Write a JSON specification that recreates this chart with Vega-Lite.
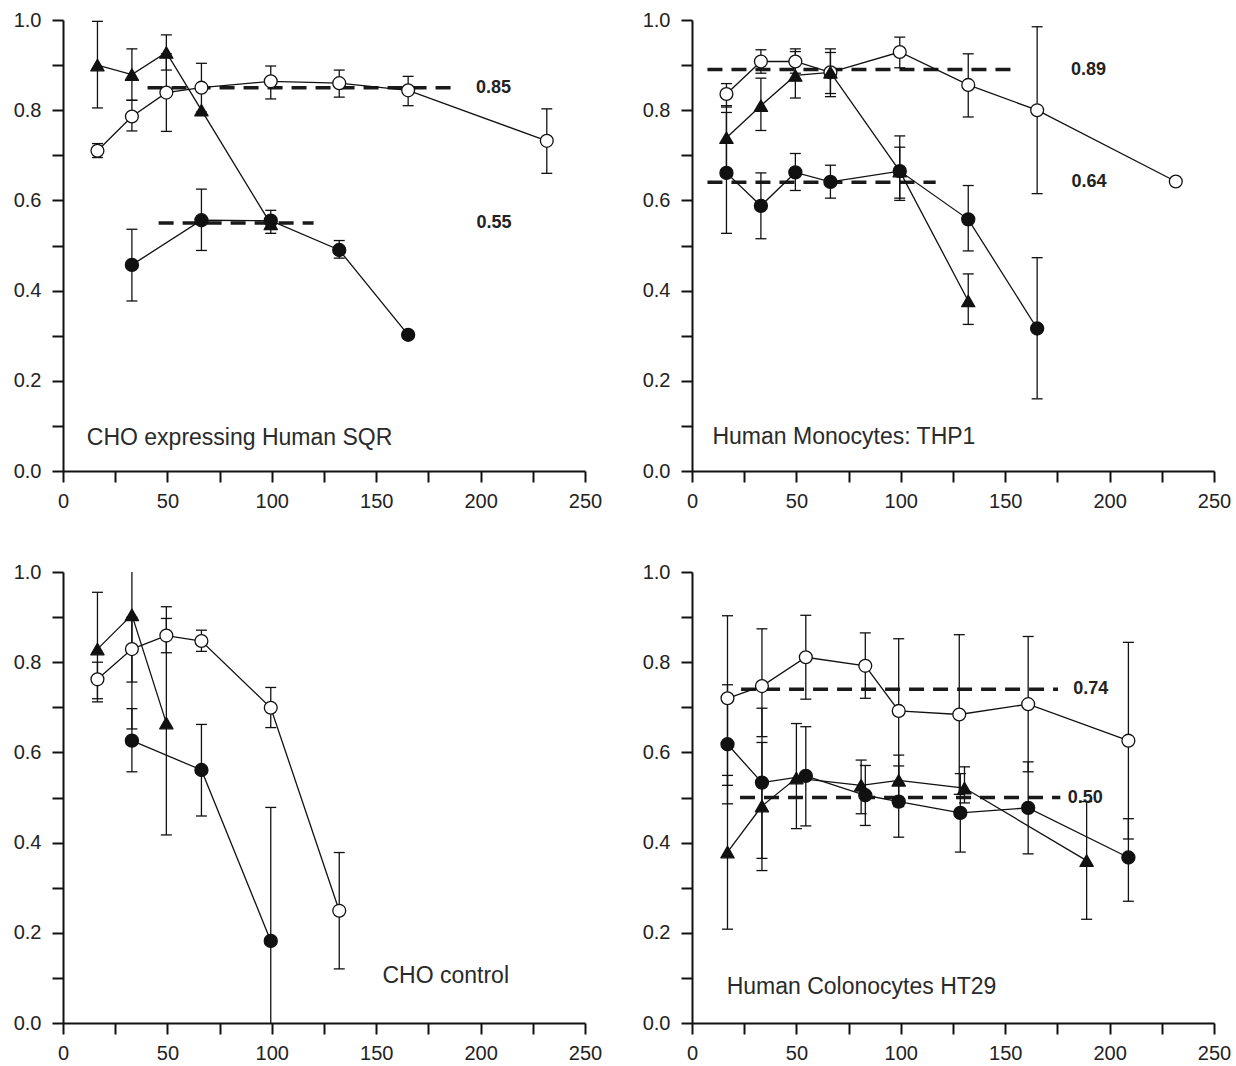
{
  "$schema": "https://vega.github.io/schema/vega-lite/v6.json",
  "padding": {"left": 13, "top": 10, "right": 0, "bottom": 0},
  "background": "white",
  "config": {
    "view": {"stroke": null},
    "font": "Liberation Sans",
    "axis": {
      "domainColor": "#111",
      "domainWidth": 2,
      "tickColor": "#111",
      "tickWidth": 2,
      "tickSize": 11,
      "labelFont": "Liberation Sans",
      "labelFontSize": 20,
      "labelColor": "#222",
      "grid": false,
      "title": null,
      "labelOverlap": false,
      "labelFlush": false
    },
    "axisX": {
      "format": "d",
      "labelExpr": "datum.value % 50 === 0 ? datum.label : ''",
      "labelPadding": 9
    },
    "axisY": {
      "format": ".1f",
      "labelExpr": "indexof(['0.0','0.2','0.4','0.6','0.8','1.0'], datum.label) >= 0 ? datum.label : ''",
      "labelPadding": 11
    }
  },
  "datasets": {
    "cells": [
      {"panel": "SQR", "kind": "pt", "series": "open", "x": 16.5, "y": 0.71, "lo": 0.695, "hi": 0.726},
      {"panel": "SQR", "kind": "pt", "series": "open", "x": 33, "y": 0.786, "lo": 0.754, "hi": 0.822},
      {"panel": "SQR", "kind": "pt", "series": "open", "x": 49.5, "y": 0.839, "lo": 0.753, "hi": 0.925},
      {"panel": "SQR", "kind": "pt", "series": "open", "x": 66.3, "y": 0.85, "lo": 0.796, "hi": 0.904},
      {"panel": "SQR", "kind": "pt", "series": "open", "x": 99.5, "y": 0.864, "lo": 0.825, "hi": 0.898},
      {"panel": "SQR", "kind": "pt", "series": "open", "x": 132.3, "y": 0.86, "lo": 0.829, "hi": 0.889},
      {"panel": "SQR", "kind": "pt", "series": "open", "x": 165.3, "y": 0.844, "lo": 0.81, "hi": 0.875},
      {"panel": "SQR", "kind": "pt", "series": "open", "x": 231.7, "y": 0.732, "lo": 0.66, "hi": 0.803},
      {"panel": "SQR", "kind": "pt", "series": "tri", "x": 16.5, "y": 0.9, "lo": 0.805, "hi": 0.997},
      {"panel": "SQR", "kind": "pt", "series": "tri", "x": 33, "y": 0.879, "lo": 0.822, "hi": 0.936},
      {"panel": "SQR", "kind": "pt", "series": "tri", "x": 49.5, "y": 0.928, "lo": 0.889, "hi": 0.967},
      {"panel": "SQR", "kind": "pt", "series": "tri", "x": 66.3, "y": 0.8},
      {"panel": "SQR", "kind": "pt", "series": "tri", "x": 99.5, "y": 0.548},
      {"panel": "SQR", "kind": "pt", "series": "filled", "x": 33, "y": 0.457, "lo": 0.377, "hi": 0.536},
      {"panel": "SQR", "kind": "pt", "series": "filled", "x": 66.3, "y": 0.556, "lo": 0.489, "hi": 0.625},
      {"panel": "SQR", "kind": "pt", "series": "filled", "x": 99.5, "y": 0.555, "lo": 0.527, "hi": 0.578},
      {"panel": "SQR", "kind": "pt", "series": "filled", "x": 132.3, "y": 0.49, "lo": 0.472, "hi": 0.511},
      {"panel": "SQR", "kind": "pt", "series": "filled", "x": 165.3, "y": 0.302},
      {"panel": "SQR", "kind": "mean", "x": 40.5, "x2": 189, "y": 0.85, "lx": 197.8, "label": "0.85"},
      {"panel": "SQR", "kind": "mean", "x": 45.8, "x2": 120, "y": 0.55, "lx": 198, "label": "0.55"},
      {"panel": "SQR", "kind": "note", "x": 11.4, "y": 0.073, "label": "CHO expressing Human SQR"},

      {"panel": "THP1", "kind": "pt", "series": "open", "x": 16.5, "y": 0.836, "lo": 0.807, "hi": 0.859},
      {"panel": "THP1", "kind": "pt", "series": "open", "x": 33, "y": 0.908, "lo": 0.882, "hi": 0.934},
      {"panel": "THP1", "kind": "pt", "series": "open", "x": 49.5, "y": 0.908, "lo": 0.882, "hi": 0.936},
      {"panel": "THP1", "kind": "pt", "series": "open", "x": 66.3, "y": 0.884, "lo": 0.83, "hi": 0.936},
      {"panel": "THP1", "kind": "pt", "series": "open", "x": 99.5, "y": 0.929, "lo": 0.894, "hi": 0.962},
      {"panel": "THP1", "kind": "pt", "series": "open", "x": 132.3, "y": 0.856, "lo": 0.785, "hi": 0.925},
      {"panel": "THP1", "kind": "pt", "series": "open", "x": 165.3, "y": 0.8, "lo": 0.615, "hi": 0.985},
      {"panel": "THP1", "kind": "pt", "series": "open", "x": 231.7, "y": 0.642},
      {"panel": "THP1", "kind": "pt", "series": "tri", "x": 16.5, "y": 0.739, "lo": 0.668, "hi": 0.81},
      {"panel": "THP1", "kind": "pt", "series": "tri", "x": 33, "y": 0.81, "lo": 0.755, "hi": 0.871},
      {"panel": "THP1", "kind": "pt", "series": "tri", "x": 49.5, "y": 0.877, "lo": 0.827, "hi": 0.93},
      {"panel": "THP1", "kind": "pt", "series": "tri", "x": 66.3, "y": 0.884, "lo": 0.837, "hi": 0.928},
      {"panel": "THP1", "kind": "pt", "series": "tri", "x": 99.5, "y": 0.665, "lo": 0.6, "hi": 0.718},
      {"panel": "THP1", "kind": "pt", "series": "tri", "x": 132.3, "y": 0.377, "lo": 0.325, "hi": 0.437},
      {"panel": "THP1", "kind": "pt", "series": "filled", "x": 16.5, "y": 0.661, "lo": 0.527, "hi": 0.795},
      {"panel": "THP1", "kind": "pt", "series": "filled", "x": 33, "y": 0.588, "lo": 0.515, "hi": 0.661},
      {"panel": "THP1", "kind": "pt", "series": "filled", "x": 49.5, "y": 0.662, "lo": 0.622, "hi": 0.704},
      {"panel": "THP1", "kind": "pt", "series": "filled", "x": 66.3, "y": 0.641, "lo": 0.605, "hi": 0.678},
      {"panel": "THP1", "kind": "pt", "series": "filled", "x": 99.5, "y": 0.665, "lo": 0.605, "hi": 0.743},
      {"panel": "THP1", "kind": "pt", "series": "filled", "x": 132.3, "y": 0.558, "lo": 0.488, "hi": 0.633},
      {"panel": "THP1", "kind": "pt", "series": "filled", "x": 165.3, "y": 0.316, "lo": 0.16, "hi": 0.473},
      {"panel": "THP1", "kind": "mean", "x": 7.4, "x2": 155.7, "y": 0.89, "lx": 181.5, "label": "0.89"},
      {"panel": "THP1", "kind": "mean", "x": 7.4, "x2": 116.7, "y": 0.64, "lx": 181.8, "label": "0.64"},
      {"panel": "THP1", "kind": "note", "x": 9.8, "y": 0.075, "label": "Human Monocytes: THP1"},

      {"panel": "CTRL", "kind": "pt", "series": "open", "x": 16.5, "y": 0.762, "lo": 0.719, "hi": 0.8},
      {"panel": "CTRL", "kind": "pt", "series": "open", "x": 33, "y": 0.829, "lo": 0.756, "hi": 0.9},
      {"panel": "CTRL", "kind": "pt", "series": "open", "x": 49.5, "y": 0.859, "lo": 0.821, "hi": 0.897},
      {"panel": "CTRL", "kind": "pt", "series": "open", "x": 66.3, "y": 0.847, "lo": 0.824, "hi": 0.871},
      {"panel": "CTRL", "kind": "pt", "series": "open", "x": 99.5, "y": 0.699, "lo": 0.655, "hi": 0.744},
      {"panel": "CTRL", "kind": "pt", "series": "open", "x": 132.3, "y": 0.249, "lo": 0.12, "hi": 0.378},
      {"panel": "CTRL", "kind": "pt", "series": "tri", "x": 16.5, "y": 0.829, "lo": 0.712, "hi": 0.955},
      {"panel": "CTRL", "kind": "pt", "series": "tri", "x": 33, "y": 0.905, "lo": 0.652, "hi": 1.16},
      {"panel": "CTRL", "kind": "pt", "series": "tri", "x": 49.5, "y": 0.665, "lo": 0.417, "hi": 0.923},
      {"panel": "CTRL", "kind": "pt", "series": "filled", "x": 33, "y": 0.626, "lo": 0.557, "hi": 0.697},
      {"panel": "CTRL", "kind": "pt", "series": "filled", "x": 66.3, "y": 0.561, "lo": 0.459, "hi": 0.662},
      {"panel": "CTRL", "kind": "pt", "series": "filled", "x": 99.5, "y": 0.182, "lo": -0.11, "hi": 0.478},
      {"panel": "CTRL", "kind": "note", "x": 153, "y": 0.105, "label": "CHO control"},

      {"panel": "HT29", "kind": "pt", "series": "open", "x": 17, "y": 0.72, "lo": 0.527, "hi": 0.903},
      {"panel": "HT29", "kind": "pt", "series": "open", "x": 33.5, "y": 0.747, "lo": 0.635, "hi": 0.874},
      {"panel": "HT29", "kind": "pt", "series": "open", "x": 54.5, "y": 0.811, "lo": 0.718, "hi": 0.904},
      {"panel": "HT29", "kind": "pt", "series": "open", "x": 83, "y": 0.792, "lo": 0.72, "hi": 0.865},
      {"panel": "HT29", "kind": "pt", "series": "open", "x": 99, "y": 0.692, "lo": 0.532, "hi": 0.852},
      {"panel": "HT29", "kind": "pt", "series": "open", "x": 128, "y": 0.684, "lo": 0.507, "hi": 0.861},
      {"panel": "HT29", "kind": "pt", "series": "open", "x": 161, "y": 0.707, "lo": 0.557, "hi": 0.857},
      {"panel": "HT29", "kind": "pt", "series": "open", "x": 209, "y": 0.626, "lo": 0.408, "hi": 0.844},
      {"panel": "HT29", "kind": "pt", "series": "filled", "x": 17, "y": 0.618, "lo": 0.486, "hi": 0.75},
      {"panel": "HT29", "kind": "pt", "series": "filled", "x": 33.5, "y": 0.533, "lo": 0.365, "hi": 0.698},
      {"panel": "HT29", "kind": "pt", "series": "filled", "x": 54.5, "y": 0.548, "lo": 0.437, "hi": 0.657},
      {"panel": "HT29", "kind": "pt", "series": "filled", "x": 83, "y": 0.505, "lo": 0.438, "hi": 0.571},
      {"panel": "HT29", "kind": "pt", "series": "filled", "x": 99, "y": 0.491, "lo": 0.412, "hi": 0.57},
      {"panel": "HT29", "kind": "pt", "series": "filled", "x": 128.5, "y": 0.466, "lo": 0.379, "hi": 0.553},
      {"panel": "HT29", "kind": "pt", "series": "filled", "x": 161, "y": 0.477, "lo": 0.375, "hi": 0.579},
      {"panel": "HT29", "kind": "pt", "series": "filled", "x": 209, "y": 0.367, "lo": 0.27, "hi": 0.453},
      {"panel": "HT29", "kind": "pt", "series": "tri", "x": 17, "y": 0.379, "lo": 0.208, "hi": 0.549},
      {"panel": "HT29", "kind": "pt", "series": "tri", "x": 33.5, "y": 0.481, "lo": 0.338, "hi": 0.622},
      {"panel": "HT29", "kind": "pt", "series": "tri", "x": 50, "y": 0.543, "lo": 0.431, "hi": 0.664},
      {"panel": "HT29", "kind": "pt", "series": "tri", "x": 81, "y": 0.527, "lo": 0.464, "hi": 0.583},
      {"panel": "HT29", "kind": "pt", "series": "tri", "x": 99, "y": 0.538, "lo": 0.48, "hi": 0.594},
      {"panel": "HT29", "kind": "pt", "series": "tri", "x": 130.5, "y": 0.521, "lo": 0.488, "hi": 0.568},
      {"panel": "HT29", "kind": "pt", "series": "tri", "x": 189, "y": 0.36, "lo": 0.23, "hi": 0.491},
      {"panel": "HT29", "kind": "mean", "x": 23.5, "x2": 175.3, "y": 0.74, "lx": 182.6, "label": "0.74"},
      {"panel": "HT29", "kind": "mean", "x": 23, "x2": 176.4, "y": 0.5, "lx": 180, "label": "0.50"},
      {"panel": "HT29", "kind": "note", "x": 16.6, "y": 0.08, "label": "Human Colonocytes HT29"}
    ]
  },
  "data": {"name": "cells"},
  "columns": 2,
  "spacing": {"row": 101, "column": 107},
  "bounds": "flush",
  "concat": [
    {
      "width": 522, "height": 451,
      "transform": [{"filter": "datum.panel === 'SQR'"}],
      "encoding": {
        "x": {"field": "x", "type": "quantitative", "scale": {"domain": [0, 250], "nice": false, "zero": false},
          "axis": {"values": [0, 25, 50, 75, 100, 125, 150, 175, 200, 225, 250]}},
        "y": {"field": "y", "type": "quantitative", "scale": {"domain": [0, 1], "nice": false, "zero": false},
          "axis": {"values": [0, 0.1, 0.2, 0.3, 0.4, 0.5, 0.6, 0.7, 0.8, 0.9, 1.0]}}
      },
      "layer": [
        {"transform": [{"filter": "datum.kind === 'mean'"}], "mark": {"type": "rule", "color": "#1a1a1a", "strokeWidth": 3.5, "strokeDash": [15, 9]}, "encoding": {"x2": {"field": "x2"}}},
        {"transform": [{"filter": "datum.kind === 'pt' && isValid(datum.lo)"}], "mark": {"type": "rule", "color": "#111", "strokeWidth": 1.3, "clip": true}, "encoding": {"y": {"field": "lo", "type": "quantitative"}, "y2": {"field": "hi"}}},
        {"transform": [{"filter": "datum.kind === 'pt' && isValid(datum.lo)"}], "mark": {"type": "tick", "orient": "horizontal", "color": "#111", "size": 11, "thickness": 1.3, "opacity": 1, "clip": true}, "encoding": {"y": {"field": "lo", "type": "quantitative"}}},
        {"transform": [{"filter": "datum.kind === 'pt' && isValid(datum.hi)"}], "mark": {"type": "tick", "orient": "horizontal", "color": "#111", "size": 11, "thickness": 1.3, "opacity": 1, "clip": true}, "encoding": {"y": {"field": "hi", "type": "quantitative"}}},
        {"transform": [{"filter": "datum.kind === 'pt'"}], "mark": {"type": "line", "color": "#111", "strokeWidth": 1.3}, "encoding": {"detail": {"field": "series"}}},
        {"transform": [{"filter": "datum.kind === 'pt'"}], "mark": {"type": "point", "filled": false, "stroke": "#111", "strokeWidth": 1.3, "opacity": 1, "strokeJoin": "round"},
          "encoding": {
            "shape": {"field": "series", "type": "nominal", "legend": null, "scale": {"domain": ["open", "filled", "tri"], "range": ["circle", "circle", "triangle-up"]}},
            "fill": {"field": "series", "type": "nominal", "legend": null, "scale": {"domain": ["open", "filled", "tri"], "range": ["#ffffff", "#111111", "#111111"]}},
            "size": {"field": "series", "type": "nominal", "legend": null, "scale": {"domain": ["open", "filled", "tri"], "range": [165, 175, 235]}}
          }},
        {"transform": [{"filter": "datum.kind === 'mean'"}], "mark": {"type": "text", "align": "left", "baseline": "middle", "fontSize": 18, "fontWeight": "bold", "color": "#222"}, "encoding": {"x": {"field": "lx", "type": "quantitative"}, "text": {"field": "label"}}},
        {"transform": [{"filter": "datum.kind === 'note'"}], "mark": {"type": "text", "align": "left", "baseline": "middle", "fontSize": 23, "color": "#2a2a2a"}, "encoding": {"text": {"field": "label"}}}
      ]
    },
    {
      "width": 522, "height": 451,
      "transform": [{"filter": "datum.panel === 'THP1'"}],
      "encoding": {
        "x": {"field": "x", "type": "quantitative", "scale": {"domain": [0, 250], "nice": false, "zero": false},
          "axis": {"values": [0, 25, 50, 75, 100, 125, 150, 175, 200, 225, 250]}},
        "y": {"field": "y", "type": "quantitative", "scale": {"domain": [0, 1], "nice": false, "zero": false},
          "axis": {"values": [0, 0.1, 0.2, 0.3, 0.4, 0.5, 0.6, 0.7, 0.8, 0.9, 1.0]}}
      },
      "layer": [
        {"transform": [{"filter": "datum.kind === 'mean'"}], "mark": {"type": "rule", "color": "#1a1a1a", "strokeWidth": 3.5, "strokeDash": [15, 9]}, "encoding": {"x2": {"field": "x2"}}},
        {"transform": [{"filter": "datum.kind === 'pt' && isValid(datum.lo)"}], "mark": {"type": "rule", "color": "#111", "strokeWidth": 1.3, "clip": true}, "encoding": {"y": {"field": "lo", "type": "quantitative"}, "y2": {"field": "hi"}}},
        {"transform": [{"filter": "datum.kind === 'pt' && isValid(datum.lo)"}], "mark": {"type": "tick", "orient": "horizontal", "color": "#111", "size": 11, "thickness": 1.3, "opacity": 1, "clip": true}, "encoding": {"y": {"field": "lo", "type": "quantitative"}}},
        {"transform": [{"filter": "datum.kind === 'pt' && isValid(datum.hi)"}], "mark": {"type": "tick", "orient": "horizontal", "color": "#111", "size": 11, "thickness": 1.3, "opacity": 1, "clip": true}, "encoding": {"y": {"field": "hi", "type": "quantitative"}}},
        {"transform": [{"filter": "datum.kind === 'pt'"}], "mark": {"type": "line", "color": "#111", "strokeWidth": 1.3}, "encoding": {"detail": {"field": "series"}}},
        {"transform": [{"filter": "datum.kind === 'pt'"}], "mark": {"type": "point", "filled": false, "stroke": "#111", "strokeWidth": 1.3, "opacity": 1, "strokeJoin": "round"},
          "encoding": {
            "shape": {"field": "series", "type": "nominal", "legend": null, "scale": {"domain": ["open", "filled", "tri"], "range": ["circle", "circle", "triangle-up"]}},
            "fill": {"field": "series", "type": "nominal", "legend": null, "scale": {"domain": ["open", "filled", "tri"], "range": ["#ffffff", "#111111", "#111111"]}},
            "size": {"field": "series", "type": "nominal", "legend": null, "scale": {"domain": ["open", "filled", "tri"], "range": [165, 175, 235]}}
          }},
        {"transform": [{"filter": "datum.kind === 'mean'"}], "mark": {"type": "text", "align": "left", "baseline": "middle", "fontSize": 18, "fontWeight": "bold", "color": "#222"}, "encoding": {"x": {"field": "lx", "type": "quantitative"}, "text": {"field": "label"}}},
        {"transform": [{"filter": "datum.kind === 'note'"}], "mark": {"type": "text", "align": "left", "baseline": "middle", "fontSize": 23, "color": "#2a2a2a"}, "encoding": {"text": {"field": "label"}}}
      ]
    },
    {
      "width": 522, "height": 451,
      "transform": [{"filter": "datum.panel === 'CTRL'"}],
      "encoding": {
        "x": {"field": "x", "type": "quantitative", "scale": {"domain": [0, 250], "nice": false, "zero": false},
          "axis": {"values": [0, 25, 50, 75, 100, 125, 150, 175, 200, 225, 250]}},
        "y": {"field": "y", "type": "quantitative", "scale": {"domain": [0, 1], "nice": false, "zero": false},
          "axis": {"values": [0, 0.1, 0.2, 0.3, 0.4, 0.5, 0.6, 0.7, 0.8, 0.9, 1.0]}}
      },
      "layer": [
        {"transform": [{"filter": "datum.kind === 'pt' && isValid(datum.lo)"}], "mark": {"type": "rule", "color": "#111", "strokeWidth": 1.3, "clip": true}, "encoding": {"y": {"field": "lo", "type": "quantitative"}, "y2": {"field": "hi"}}},
        {"transform": [{"filter": "datum.kind === 'pt' && isValid(datum.lo)"}], "mark": {"type": "tick", "orient": "horizontal", "color": "#111", "size": 11, "thickness": 1.3, "opacity": 1, "clip": true}, "encoding": {"y": {"field": "lo", "type": "quantitative"}}},
        {"transform": [{"filter": "datum.kind === 'pt' && isValid(datum.hi)"}], "mark": {"type": "tick", "orient": "horizontal", "color": "#111", "size": 11, "thickness": 1.3, "opacity": 1, "clip": true}, "encoding": {"y": {"field": "hi", "type": "quantitative"}}},
        {"transform": [{"filter": "datum.kind === 'pt'"}], "mark": {"type": "line", "color": "#111", "strokeWidth": 1.3}, "encoding": {"detail": {"field": "series"}}},
        {"transform": [{"filter": "datum.kind === 'pt'"}], "mark": {"type": "point", "filled": false, "stroke": "#111", "strokeWidth": 1.3, "opacity": 1, "strokeJoin": "round"},
          "encoding": {
            "shape": {"field": "series", "type": "nominal", "legend": null, "scale": {"domain": ["open", "filled", "tri"], "range": ["circle", "circle", "triangle-up"]}},
            "fill": {"field": "series", "type": "nominal", "legend": null, "scale": {"domain": ["open", "filled", "tri"], "range": ["#ffffff", "#111111", "#111111"]}},
            "size": {"field": "series", "type": "nominal", "legend": null, "scale": {"domain": ["open", "filled", "tri"], "range": [165, 175, 235]}}
          }},
        {"transform": [{"filter": "datum.kind === 'note'"}], "mark": {"type": "text", "align": "left", "baseline": "middle", "fontSize": 23, "color": "#2a2a2a"}, "encoding": {"text": {"field": "label"}}}
      ]
    },
    {
      "width": 522, "height": 451,
      "transform": [{"filter": "datum.panel === 'HT29'"}],
      "encoding": {
        "x": {"field": "x", "type": "quantitative", "scale": {"domain": [0, 250], "nice": false, "zero": false},
          "axis": {"values": [0, 25, 50, 75, 100, 125, 150, 175, 200, 225, 250]}},
        "y": {"field": "y", "type": "quantitative", "scale": {"domain": [0, 1], "nice": false, "zero": false},
          "axis": {"values": [0, 0.1, 0.2, 0.3, 0.4, 0.5, 0.6, 0.7, 0.8, 0.9, 1.0]}}
      },
      "layer": [
        {"transform": [{"filter": "datum.kind === 'mean'"}], "mark": {"type": "rule", "color": "#1a1a1a", "strokeWidth": 3.5, "strokeDash": [15, 9]}, "encoding": {"x2": {"field": "x2"}}},
        {"transform": [{"filter": "datum.kind === 'pt' && isValid(datum.lo)"}], "mark": {"type": "rule", "color": "#111", "strokeWidth": 1.3, "clip": true}, "encoding": {"y": {"field": "lo", "type": "quantitative"}, "y2": {"field": "hi"}}},
        {"transform": [{"filter": "datum.kind === 'pt' && isValid(datum.lo)"}], "mark": {"type": "tick", "orient": "horizontal", "color": "#111", "size": 11, "thickness": 1.3, "opacity": 1, "clip": true}, "encoding": {"y": {"field": "lo", "type": "quantitative"}}},
        {"transform": [{"filter": "datum.kind === 'pt' && isValid(datum.hi)"}], "mark": {"type": "tick", "orient": "horizontal", "color": "#111", "size": 11, "thickness": 1.3, "opacity": 1, "clip": true}, "encoding": {"y": {"field": "hi", "type": "quantitative"}}},
        {"transform": [{"filter": "datum.kind === 'pt'"}], "mark": {"type": "line", "color": "#111", "strokeWidth": 1.3}, "encoding": {"detail": {"field": "series"}}},
        {"transform": [{"filter": "datum.kind === 'pt'"}], "mark": {"type": "point", "filled": false, "stroke": "#111", "strokeWidth": 1.3, "opacity": 1, "strokeJoin": "round"},
          "encoding": {
            "shape": {"field": "series", "type": "nominal", "legend": null, "scale": {"domain": ["open", "filled", "tri"], "range": ["circle", "circle", "triangle-up"]}},
            "fill": {"field": "series", "type": "nominal", "legend": null, "scale": {"domain": ["open", "filled", "tri"], "range": ["#ffffff", "#111111", "#111111"]}},
            "size": {"field": "series", "type": "nominal", "legend": null, "scale": {"domain": ["open", "filled", "tri"], "range": [165, 175, 235]}}
          }},
        {"transform": [{"filter": "datum.kind === 'mean'"}], "mark": {"type": "text", "align": "left", "baseline": "middle", "fontSize": 18, "fontWeight": "bold", "color": "#222"}, "encoding": {"x": {"field": "lx", "type": "quantitative"}, "text": {"field": "label"}}},
        {"transform": [{"filter": "datum.kind === 'note'"}], "mark": {"type": "text", "align": "left", "baseline": "middle", "fontSize": 23, "color": "#2a2a2a"}, "encoding": {"text": {"field": "label"}}}
      ]
    }
  ]
}
